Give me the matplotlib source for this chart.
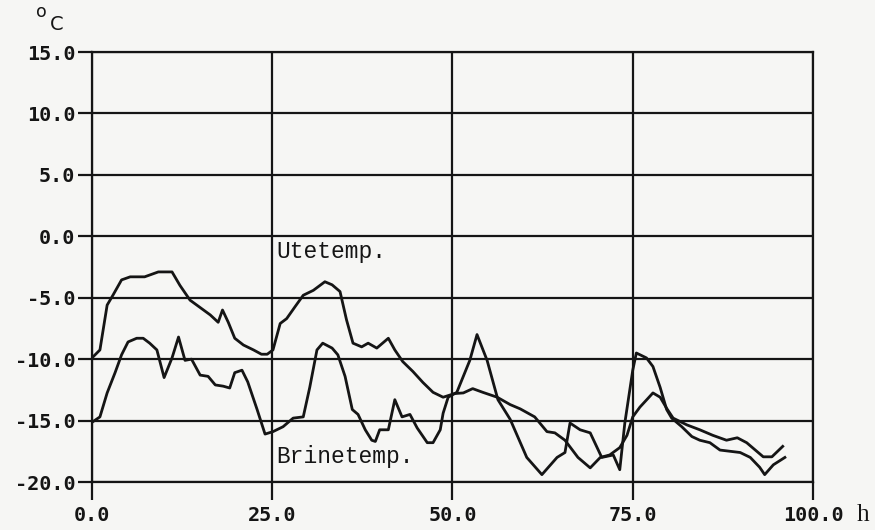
import matplotlib.pyplot as plt

# Utetemp (upper curve at start)
ute_h = [0, 1.1, 2.1, 2.9, 4.1, 5.3, 7.3, 9.2, 11.1, 12.2, 13.6, 15.0, 16.4, 17.5,
         18.1, 18.9, 19.8, 21.0, 22.4, 23.5, 24.3, 25.1, 26.1, 27.0, 28.2, 29.3,
         30.7, 32.3, 33.3, 34.4, 35.3, 36.2, 37.4, 38.3, 39.5, 41.1, 42.0, 43.1,
         44.5, 45.9, 47.3, 48.7, 50.3, 51.5, 52.8, 54.2, 56.2, 58.0, 59.4, 61.4,
         63.1, 64.2, 65.6, 67.4, 69.1, 70.5, 71.8, 73.2, 74.2, 75.0, 76.0, 77.1,
         77.8, 78.8, 79.7, 80.6, 82.5, 84.3, 86.1, 88.0, 89.5, 90.8, 92.2, 93.1,
         94.3, 95.8]
ute_temp = [-9.9, -9.25, -5.6, -4.8, -3.55, -3.3, -3.3, -2.9, -2.9, -4.0, -5.2, -5.8,
            -6.4, -7.0, -6.0, -7.0, -8.3, -8.85, -9.25, -9.6, -9.6, -9.25, -7.1, -6.7,
            -5.7, -4.8, -4.4, -3.7, -3.95, -4.5, -6.8, -8.7, -9.0, -8.7, -9.1, -8.3,
            -9.25, -10.2, -11.0, -11.9, -12.7, -13.1, -12.8, -12.75, -12.4, -12.7,
            -13.1, -13.7, -14.05, -14.7, -15.9, -16.0, -16.6, -18.0, -18.85, -18.0,
            -17.8, -17.2, -16.2, -14.7, -13.9, -13.2, -12.75, -13.1, -14.0, -14.8,
            -15.35, -15.75, -16.2, -16.6, -16.4, -16.8, -17.5, -17.95, -17.95, -17.1]

# Brinetemp (lower curve at start)
brine_h = [0.1, 1.1, 2.1, 3.2, 4.1, 5.0, 6.2, 7.1, 8.0, 9.0, 10.0, 11.1, 12.0, 12.9,
           13.8, 15.0, 16.1, 17.1, 18.2, 19.1, 19.8, 20.8, 21.6, 22.9, 24.0, 25.1,
           26.5, 27.9, 29.3, 30.2, 31.2, 32.0, 33.3, 34.1, 35.1, 36.1, 36.9, 37.9,
           38.8, 39.3, 39.9, 41.1, 42.0, 43.0, 44.1, 45.1, 46.5, 47.3, 48.3, 48.7,
           49.4, 50.6, 51.5, 52.4, 53.4, 54.8, 56.3, 58.0, 60.3, 62.4, 64.5, 65.6,
           66.3, 67.7, 69.1, 70.7, 72.3, 73.2, 73.9, 75.0, 75.5, 76.9, 77.8, 78.8,
           79.7, 80.4, 81.8, 83.2, 84.3, 85.7, 87.1, 88.5, 89.9, 91.3, 92.6, 93.3,
           94.5, 96.1]
brine_temp = [-15.1, -14.7, -12.75, -11.1, -9.65, -8.6, -8.3, -8.3, -8.7, -9.25, -11.5,
              -9.9, -8.2, -10.1, -10.0, -11.3, -11.4, -12.1, -12.2, -12.35, -11.1,
              -10.9, -11.85, -14.1, -16.1, -15.9, -15.5, -14.8, -14.7, -12.3, -9.25,
              -8.7, -9.1, -9.65, -11.4, -14.1, -14.5, -15.75, -16.6, -16.7, -15.75,
              -15.75, -13.3, -14.7, -14.5, -15.6, -16.8, -16.8, -15.75, -14.4, -13.1,
              -12.7, -11.4, -10.1, -8.0, -10.1, -13.3, -14.9, -18.0, -19.4, -18.0,
              -17.6, -15.2, -15.75, -16.0, -18.0, -17.8, -19.0, -15.2, -10.9, -9.5,
              -9.9, -10.6, -12.3, -14.1, -14.8, -15.5, -16.3, -16.6, -16.8, -17.4,
              -17.5, -17.6, -18.0, -18.8, -19.4, -18.6, -18.0]

x_ticks = [0, 25, 50, 75, 100]
y_ticks = [-20, -15, -10, -5, 0, 5, 10, 15]

plt.rcParams['axes.unicode_minus'] = False
ink = '#151515'
bg = '#f6f6f4'

fig = plt.figure(figsize=(8.75, 5.3), dpi=100, facecolor=bg)
ax = fig.add_axes([92 / 875, 48 / 530, 721 / 875, 430 / 530], facecolor=bg)

ax.plot(ute_h, ute_temp, color=ink, lw=2.0, solid_joinstyle='round')
ax.plot(brine_h, brine_temp, color=ink, lw=2.0, solid_joinstyle='round')

ax.set_xlim(0, 100)
ax.set_ylim(-20, 15)
ax.set_xticks(x_ticks)
ax.set_yticks(y_ticks)
ax.set_xticklabels([f"{v:.1f}" for v in x_ticks])
ax.set_yticklabels([f"{v:.1f}" for v in y_ticks])
ax.grid(True, color=ink, lw=1.6)
for s in ax.spines.values():
    s.set_color(ink)
    s.set_linewidth(1.6)

tick_font = dict(family='DejaVu Sans Mono', weight='bold', size=14.5)
ax.tick_params(axis='x', direction='out', length=13, width=1.6, color=ink, pad=4)
ax.tick_params(axis='y', direction='out', length=10, width=1.6, color=ink, pad=2)
for lab in ax.get_xticklabels() + ax.get_yticklabels():
    lab.set_fontproperties(tick_font)
    lab.set_color(ink)

label_font = dict(family='Liberation Mono', size=16.5, color=ink)
ax.text(25.6, -1.75, "Utetemp.", va='baseline', ha='left', **label_font)
ax.text(25.6, -18.45, "Brinetemp.", va='baseline', ha='left', **label_font)

# unit labels
fig.text(36 / 875, 1 - 17 / 530, "o", family='DejaVu Sans', size=12.5, color=ink,
         va='baseline', ha='left')
fig.text(50 / 875, 1 - 30 / 530, "C", family='DejaVu Sans', size=14, color=ink,
         va='baseline', ha='left')
fig.text(857 / 875, 1 - 521 / 530, "h", family='Liberation Serif', size=18,
         color=ink, va='baseline', ha='left')

fig.savefig("out.png", dpi=100, facecolor=bg)
